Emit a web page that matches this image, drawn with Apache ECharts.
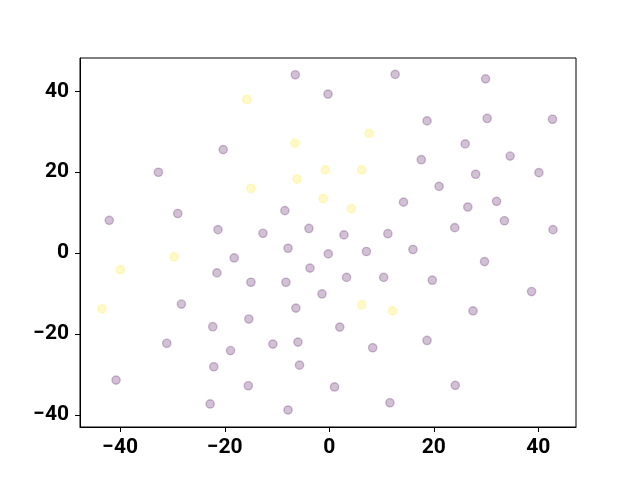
<!DOCTYPE html>
<html><head><meta charset="utf-8">
<script src="https://cdn.jsdelivr.net/npm/echarts@6/dist/echarts.min.js"></script>
<style>html,body{margin:0;padding:0;background:#fff}#c{width:640px;height:480px}</style>
</head><body><div id="c"></div>
<script>
const xTicks = [-40, -20, 0, 20, 40];
const yTicks = [-40, -20, 0, 20, 40];
const purplePoints = [
  [-6.5,44.1],[-0.25,39.3],[-20.3,25.6],[-32.7,20.0],[-8.5,10.5],[-29.0,9.8],[-42.1,8.1],
  [-21.3,5.8],[-12.7,4.9],[-3.9,6.1],[-7.9,1.2],[12.6,44.2],[29.9,43.1],[18.7,32.7],
  [30.2,33.3],[42.7,33.1],[26.0,27.0],[17.6,23.1],[34.6,24.0],[28.0,19.5],[40.1,19.9],
  [21.0,16.5],[14.2,12.6],[26.5,11.4],[32.0,12.8],[33.5,8.0],[42.8,5.8],[2.8,4.5],
  [11.2,4.8],[24.0,6.3],[7.1,0.4],[16.0,0.9],[-18.2,-1.2],[-21.5,-4.9],[-15.0,-7.2],
  [-0.2,-0.2],[-3.7,-3.7],[-8.3,-7.2],[-1.4,-10.1],[-28.3,-12.6],[-6.4,-13.6],[-15.4,-16.3],
  [-22.3,-18.2],[-31.1,-22.3],[-18.9,-24.1],[-10.8,-22.5],[-6.0,-22.0],[-22.1,-28.1],
  [-5.7,-27.7],[-40.8,-31.4],[-15.5,-32.8],[-22.8,-37.3],[-7.9,-38.8],[1.0,-33.1],
  [29.7,-2.1],[3.3,-6.0],[10.4,-6.0],[19.7,-6.7],[38.7,-9.5],[27.5,-14.3],[2.0,-18.3],
  [8.3,-23.4],[18.7,-21.6],[24.1,-32.7],[11.6,-37.0]
];
const yellowPoints = [
  [-15.8,38.0],[-6.6,27.2],[-0.8,20.6],[-6.2,18.3],[-15.0,16.0],[-1.2,13.5],[7.6,29.6],
  [6.2,20.6],[4.2,11.0],[-29.7,-0.9],[-40.0,-4.1],[-43.5,-13.8],[6.2,-12.8],[12.1,-14.3]
];
const fmt = v => (v < 0 ? '\u2212' + Math.abs(v) : String(v));
const labelStyle = {color:'#000', fontFamily:'Roboto', fontWeight:'bold', fontSize:21};
const axisCommon = {
  type:'value', splitLine:{show:false},
  axisLine:{show:true, onZero:false, lineStyle:{color:'#000', width:1}},
};
const chart = echarts.init(document.getElementById('c'), null, {renderer:'canvas'});
chart.setOption({
  animation:false,
  grid:{left:80, right:64, top:58, bottom:53, show:true, borderColor:'#000', borderWidth:1, backgroundColor:'#fff'},
  xAxis:Object.assign({}, axisCommon, {min:-47.7, max:47.2,
    axisTick:{show:true, inside:false, length:5, lineStyle:{color:'#000', width:1}, customValues:xTicks},
    axisLabel:Object.assign({margin:10, formatter:fmt, customValues:xTicks}, labelStyle)}),
  yAxis:Object.assign({}, axisCommon, {min:-43.0, max:48.25,
    axisTick:{show:true, inside:false, length:5, lineStyle:{color:'#000', width:1}, customValues:yTicks},
    axisLabel:Object.assign({margin:11, formatter:fmt, customValues:yTicks, padding:[5,0,0,0]}, labelStyle)}),
  series:[
    {type:'scatter', data:purplePoints, symbolSize:8.3,
      itemStyle:{color:'rgba(68,1,84,0.3)', borderColor:'rgba(68,1,84,0.3)', borderWidth:1.4}},
    {type:'scatter', data:yellowPoints, symbolSize:8.3,
      itemStyle:{color:'rgba(253,231,37,0.3)', borderColor:'rgba(253,231,37,0.3)', borderWidth:1.4}}
  ]
});
</script></body></html>
